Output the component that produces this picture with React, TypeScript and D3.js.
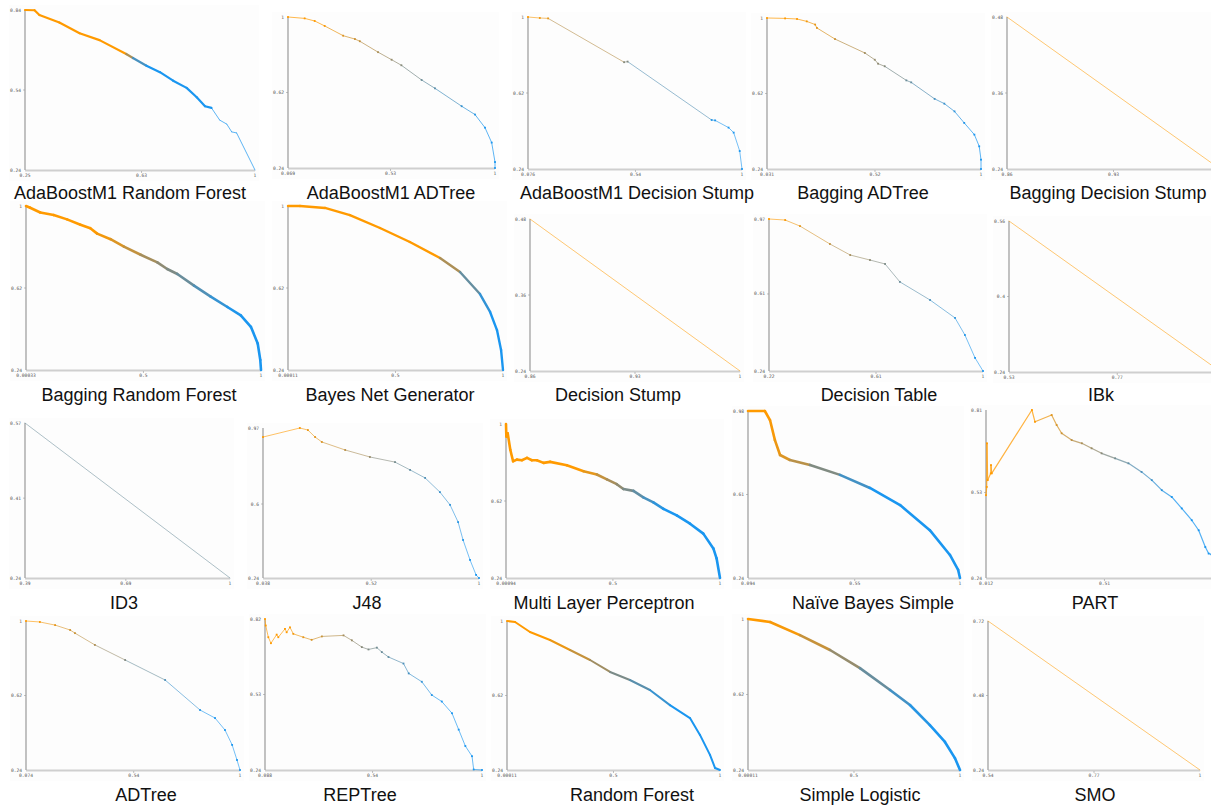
import React from "react";
import * as d3 from "d3";

const panelNames = [
  "AdaBoostM1 Random Forest", "AdaBoostM1 ADTree", "AdaBoostM1 Decision Stump", "Bagging ADTree", "Bagging Decision Stump",
  "Bagging Random Forest", "Bayes Net Generator", "Decision Stump", "Decision Table", "IBk",
  "ID3", "J48", "Multi Layer Perceptron", "Naïve Bayes Simple", "PART",
  "ADTree", "REPTree", "Random Forest", "Simple Logistic", "SMO",
];

const xTickLabels = [
  ["0.25", "0.63", "1"], ["0.069", "0.53", "1"], ["0.076", "0.54", "1"], ["0.031", "0.52", "1"], ["0.86", "0.93", "1"],
  ["0.00033", "0.5", "1"], ["0.00011", "0.5", "1"], ["0.86", "0.93", "1"], ["0.22", "0.61", "1"], ["0.53", "0.77", "1"],
  ["0.39", "0.69", "1"], ["0.038", "0.52", "1"], ["0.00094", "0.5", "1"], ["0.094", "0.55", "1"], ["0.012", "0.51", "1"],
  ["0.074", "0.54", "1"], ["0.088", "0.54", "1"], ["0.00011", "0.5", "1"], ["0.00011", "0.5", "1"], ["0.54", "0.77", "1"],
];

const yTickLabels = [
  ["0.24", "0.54", "0.84"], ["0.24", "0.62", "1"], ["0.24", "0.62", "1"], ["0.24", "0.62", "1"], ["0.24", "0.36", "0.48"],
  ["0.24", "0.62", "1"], ["0.24", "0.62", "1"], ["0.24", "0.36", "0.48"], ["0.24", "0.61", "0.97"], ["0.24", "0.4", "0.56"],
  ["0.24", "0.41", "0.57"], ["0.24", "0.6", "0.97"], ["0.24", "0.62", "1"], ["0.24", "0.61", "0.98"], ["0.24", "0.53", "0.81"],
  ["0.24", "0.62", "1"], ["0.24", "0.53", "0.82"], ["0.24", "0.62", "1"], ["0.24", "0.62", "1"], ["0.24", "0.48", "0.72"],
];

// recall, precision
const adaRandomForest = [[0.25,0.84],[0.281,0.839],[0.297,0.821],[0.362,0.793],[0.428,0.753],[0.493,0.727],[0.58,0.675],[0.602,0.66],[0.646,0.631],[0.69,0.607],[0.733,0.575],[0.777,0.548],[0.81,0.513],[0.837,0.479],[0.858,0.473],[0.885,0.427],[0.908,0.412],[0.924,0.383],[0.94,0.379],[1,0.24]];
const adaADTree = [[0.069,1],[0.144,0.993],[0.189,0.98],[0.234,0.955],[0.317,0.906],[0.37,0.889],[0.392,0.878],[0.474,0.823],[0.535,0.785],[0.579,0.757],[0.67,0.683],[0.73,0.641],[0.85,0.551],[0.91,0.509],[0.955,0.443],[0.985,0.368],[1,0.27],[1,0.24]];
const adaDecisionStump = [[0.076,1],[0.127,0.995],[0.163,0.993],[0.491,0.774],[0.506,0.777],[0.869,0.485],[0.884,0.483],[0.942,0.447],[0.964,0.422],[0.99,0.33],[1,0.24]];
const baggingADTree = [[0.031,1],[0.113,0.998],[0.167,0.995],[0.211,0.983],[0.249,0.967],[0.257,0.95],[0.339,0.894],[0.474,0.824],[0.519,0.79],[0.534,0.77],[0.564,0.757],[0.662,0.686],[0.684,0.676],[0.79,0.593],[0.834,0.569],[0.88,0.53],[0.924,0.472],[0.97,0.413],[0.992,0.354],[1,0.287],[1,0.24]];
const baggingDecisionStump = [[0.86,0.48],[1,0.24]];
const baggingRandomForest = [[0.00033,1],[0.018,0.992],[0.061,0.97],[0.118,0.958],[0.175,0.938],[0.232,0.913],[0.274,0.897],[0.303,0.872],[0.36,0.846],[0.417,0.812],[0.488,0.774],[0.559,0.739],[0.601,0.708],[0.644,0.685],[0.715,0.631],[0.786,0.58],[0.857,0.532],[0.914,0.493],[0.957,0.44],[0.986,0.363],[0.997,0.286],[1,0.24]];
const bayesNetGenerator = [[0.00011,1],[0.056,1],[0.172,0.991],[0.288,0.958],[0.428,0.898],[0.567,0.833],[0.707,0.759],[0.8,0.694],[0.893,0.592],[0.94,0.509],[0.972,0.425],[0.991,0.333],[1,0.24]];
const decisionStump = [[0.86,0.48],[1,0.24]];
const decisionTable = [[0.22,0.97],[0.279,0.965],[0.333,0.936],[0.442,0.85],[0.516,0.797],[0.588,0.773],[0.643,0.754],[0.697,0.668],[0.807,0.581],[0.898,0.495],[0.934,0.413],[0.971,0.303],[1,0.24]];
const ibk = [[0.53,0.56],[1,0.24]];
const id3 = [[0.39,0.57],[1,0.24]];
const j48 = [[0.038,0.926],[0.202,0.97],[0.238,0.96],[0.27,0.926],[0.3,0.902],[0.404,0.863],[0.514,0.829],[0.626,0.804],[0.693,0.766],[0.76,0.727],[0.826,0.658],[0.871,0.596],[0.907,0.512],[0.929,0.425],[0.96,0.328],[0.987,0.255],[1,0.24]];
const multiLayerPerceptron = [[0.00094,1],[0.0026,0.938],[0.0088,0.954],[0.021,0.873],[0.034,0.816],[0.052,0.824],[0.075,0.821],[0.099,0.833],[0.122,0.821],[0.145,0.821],[0.176,0.808],[0.207,0.813],[0.285,0.796],[0.363,0.767],[0.425,0.751],[0.472,0.727],[0.518,0.703],[0.549,0.679],[0.596,0.67],[0.642,0.638],[0.689,0.613],[0.736,0.581],[0.798,0.549],[0.86,0.508],[0.922,0.459],[0.969,0.386],[0.984,0.337],[1,0.24]];
const naiveBayesSimple = [[0.094,0.98],[0.166,0.98],[0.188,0.94],[0.209,0.851],[0.231,0.785],[0.273,0.763],[0.359,0.741],[0.487,0.697],[0.615,0.639],[0.744,0.563],[0.871,0.452],[0.957,0.342],[0.992,0.276],[1,0.24]];
const part = [[0.012,0.521],[0.015,0.549],[0.016,0.697],[0.019,0.572],[0.032,0.595],[0.033,0.623],[0.036,0.595],[0.205,0.81],[0.218,0.77],[0.288,0.793],[0.309,0.759],[0.33,0.731],[0.372,0.708],[0.415,0.697],[0.456,0.68],[0.498,0.663],[0.555,0.646],[0.611,0.629],[0.666,0.6],[0.709,0.572],[0.751,0.538],[0.793,0.515],[0.835,0.476],[0.877,0.436],[0.906,0.402],[0.934,0.345],[0.948,0.323],[0.96,0.32],[1,0.24]];
const adTree = [[0.074,1],[0.134,0.995],[0.2,0.979],[0.265,0.954],[0.286,0.938],[0.372,0.878],[0.503,0.801],[0.676,0.699],[0.827,0.546],[0.892,0.505],[0.935,0.444],[0.966,0.368],[0.987,0.291],[1,0.24]];
const repTree = [[0.088,0.82],[0.091,0.795],[0.102,0.75],[0.113,0.727],[0.137,0.76],[0.144,0.75],[0.172,0.782],[0.179,0.769],[0.193,0.788],[0.207,0.763],[0.249,0.75],[0.284,0.74],[0.327,0.753],[0.418,0.757],[0.453,0.738],[0.495,0.712],[0.523,0.703],[0.558,0.71],[0.579,0.693],[0.607,0.674],[0.67,0.649],[0.692,0.611],[0.747,0.579],[0.789,0.528],[0.831,0.503],[0.874,0.458],[0.902,0.395],[0.93,0.332],[0.958,0.293],[0.965,0.242],[1,0.24]];
const randomForest = [[0.00011,1],[0.038,0.995],[0.108,0.944],[0.202,0.903],[0.296,0.852],[0.39,0.801],[0.484,0.74],[0.577,0.699],[0.671,0.648],[0.765,0.571],[0.859,0.505],[0.906,0.419],[0.953,0.317],[0.977,0.25],[1,0.24]];
const simpleLogistic = [[0.00011,1],[0.104,0.985],[0.245,0.919],[0.387,0.844],[0.528,0.753],[0.67,0.643],[0.764,0.567],[0.858,0.466],[0.929,0.381],[0.976,0.3],[1,0.24]];
const smo = [[0.54,0.72],[1,0.24]];

const curves = [
  adaRandomForest, adaADTree, adaDecisionStump, baggingADTree, baggingDecisionStump,
  baggingRandomForest, bayesNetGenerator, decisionStump, decisionTable, ibk,
  id3, j48, multiLayerPerceptron, naiveBayesSimple, part,
  adTree, repTree, randomForest, simpleLogistic, smo,
];

// left, top, right, bottom, title x, title baseline
const boxes = [
  [25, 10, 255, 170, 130, 199], [288, 17, 495, 168, 391, 199], [528, 17, 742, 169, 637, 199], [767, 18, 981, 169, 863, 199], [1007, 17, 1220, 169, 1108, 199],
  [26, 206, 261, 370, 139, 401], [288, 206, 503, 370, 390, 401], [530, 219, 740, 371, 618, 401], [769, 219, 983, 371, 879, 401], [1009, 221, 1221, 372, 1101, 401],
  [25, 423, 230, 578, 124, 609], [263, 428, 479, 578, 367, 609], [506, 424, 720, 578, 604, 609], [748, 411, 960, 578, 873, 609], [986, 410, 1221, 578, 1095, 609],
  [26, 621, 240, 770, 146, 801], [265, 619, 482, 770, 360, 801], [507, 621, 720, 770, 632, 801], [748, 619, 960, 770, 860, 801], [988, 621, 1200, 770, 1095, 801],
];

// line width, colour centre, colour spread, opacity, dots, thin after (recall)
const styles = [
  [2.2, 0.47, 0.05, 1, false, 0.85], [1, 0.55, 0.4, 0.7, true, 0], [1, 0.45, 0.45, 0.6, true, 0], [1, 0.55, 0.4, 0.7, true, 0], [1, 3, 0.5, 0.55, false, 0],
  [2.6, 0.6, 0.3, 1, false, 0], [2.4, 0.8, 0.15, 1, false, 0], [1, 3, 0.5, 0.55, false, 0], [1, 0.5, 0.45, 0.6, true, 0], [1, 3, 0.5, 0.55, false, 0],
  [1, 0, 2, 0.55, false, 0], [1, 0.55, 0.4, 0.6, true, 0], [2.6, 0.55, 0.2, 1, false, 0], [2.6, 0.35, 0.25, 1, false, 0], [1.2, 0.5, 0.3, 0.75, true, 0],
  [1, 0.45, 0.4, 0.6, true, 0], [1, 0.45, 0.35, 0.65, true, 0], [2, 0.5, 0.3, 1, false, 0], [2.6, 0.5, 0.35, 1, false, 0], [1, 3, 0.5, 0.55, false, 0],
];

const ORANGE = "#ff9a00";
const GRAY = "#868a7c";
const BLUE = "#1a96f0";
const W = 1211;

const App = () => {
  const svgRef = React.useRef(null);

  React.useEffect(() => {
    const svgEl = d3.select(svgRef.current);
    svgEl.selectAll("*").remove();

    curves.forEach((pts, i) => {
      const [l, t, r, b, tx, ty] = boxes[i];
      const [lw, cc, cs, op, dots, thinAfter] = styles[i] as any;
      const xLab = xTickLabels[i];
      const yLab = yTickLabels[i];
      const xScale = d3.scaleLinear().domain([+xLab[0], +xLab[2]]).range([l, r]);
      const yScale = d3.scaleLinear().domain([+yLab[0], +yLab[2]]).range([b, t]);
      const color = d3.scaleLinear<string>()
        .domain([cc - cs, cc, cc + cs])
        .range([ORANGE, GRAY, BLUE])
        .interpolate(d3.interpolateRgb)
        .clamp(true);
      const u = (x) => (x - +xLab[0]) / (+xLab[2] - +xLab[0]);

      const g = svgEl.append("g");
      g.append("rect")
        .attr("x", l - 16).attr("y", t - 5)
        .attr("width", r - l + 20).attr("height", b - t + 16)
        .attr("fill", "#fdfdfd");

      // axes
      g.append("line").attr("x1", l).attr("x2", r).attr("y1", b + 0.5).attr("y2", b + 0.5)
        .attr("stroke", "#cfcfcf").attr("stroke-width", 2);
      g.append("line").attr("x1", l).attr("x2", l).attr("y1", t).attr("y2", b)
        .attr("stroke", "#9a9a9a").attr("stroke-width", 1.2);

      const tickFont = "'DejaVu Sans Mono', monospace";
      yLab.forEach((lab) => {
        g.append("text")
          .attr("x", l - 4).attr("y", yScale(+lab) + 1.5)
          .attr("text-anchor", "end")
          .attr("font-family", tickFont).attr("font-size", 4.6)
          .attr("fill", "#555").text(lab);
      });
      g.append("line").attr("x1", l - 2).attr("x2", l).attr("y1", yScale(+yLab[1])).attr("y2", yScale(+yLab[1]))
        .attr("stroke", "#999").attr("stroke-width", 0.6);
      // the right-most label of the cropped panels falls outside the picture
      xLab.filter((lab) => xScale(+lab) < W - 4).forEach((lab) => {
        g.append("text")
          .attr("x", xScale(+lab)).attr("y", b + 7)
          .attr("text-anchor", "middle")
          .attr("font-family", tickFont).attr("font-size", 4.6)
          .attr("fill", "#555").text(lab);
      });
      g.append("line").attr("x1", xScale(+xLab[1])).attr("x2", xScale(+xLab[1])).attr("y1", b + 1).attr("y2", b + 3)
        .attr("stroke", "#999").attr("stroke-width", 0.6);

      // curve, segment by segment so the colour can follow recall
      const segs = d3.pairs(pts);
      g.selectAll(".seg")
        .data(segs)
        .enter()
        .append("line")
        .attr("x1", (d) => xScale(d[0][0]))
        .attr("y1", (d) => yScale(d[0][1]))
        .attr("x2", (d) => xScale(d[1][0]))
        .attr("y2", (d) => yScale(d[1][1]))
        .attr("stroke", (d) => color(u((d[0][0] + d[1][0]) / 2)))
        .attr("stroke-width", (d) => (thinAfter && d[0][0] >= thinAfter ? 1 : lw))
        .attr("stroke-opacity", (d) => (thinAfter && d[0][0] >= thinAfter ? 0.7 : op))
        .attr("stroke-linecap", "round");

      if (dots) {
        g.selectAll(".dot")
          .data(pts)
          .enter()
          .append("rect")
          .attr("x", (d) => xScale(d[0]) - 0.9)
          .attr("y", (d) => yScale(d[1]) - 0.9)
          .attr("width", 1.8).attr("height", 1.8)
          .attr("fill", (d) => color(u(d[0])));
      }

      g.append("text")
        .attr("x", tx).attr("y", ty)
        .attr("text-anchor", "middle")
        .attr("font-family", "'Liberation Sans', Arial, sans-serif")
        .attr("font-size", 18)
        .attr("fill", "#111")
        .text(panelNames[i]);
    });
  }, []);

  return (
    <svg
      ref={svgRef}
      width={W}
      height={808}
      style={{ position: "absolute", left: 0, top: 0, background: "#fff" }}
    />
  );
};

export default App;
